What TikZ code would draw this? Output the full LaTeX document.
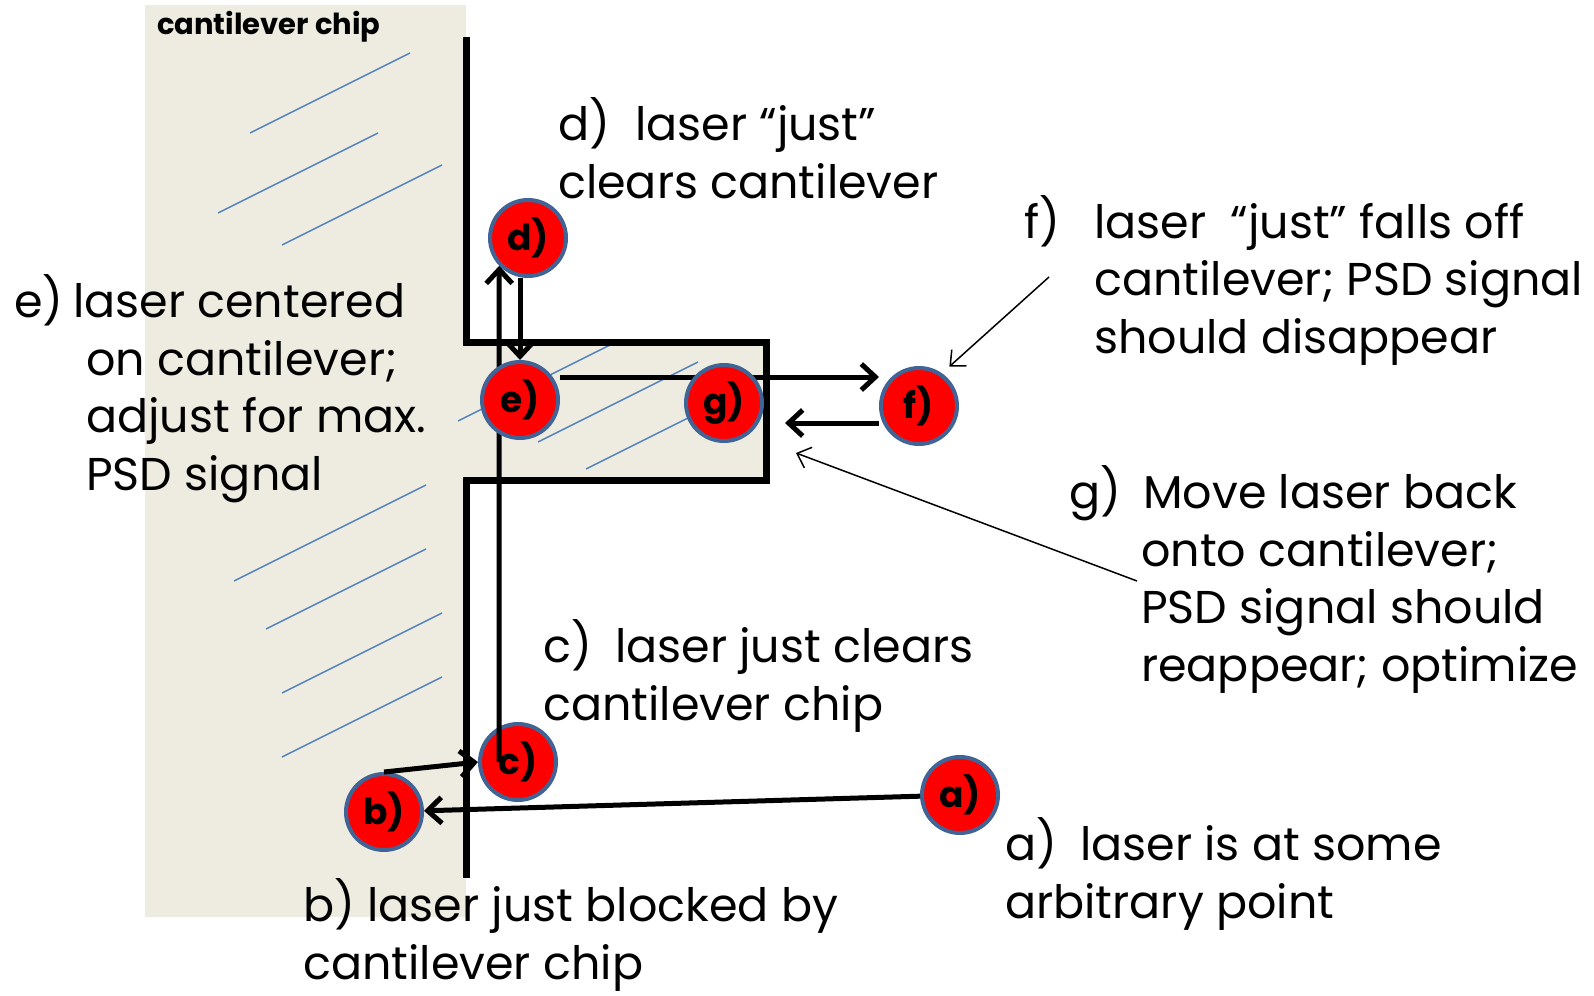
\documentclass[tikz,border=0pt]{standalone}
\usepackage{fontspec}
\setmainfont{Poppins}
\usetikzlibrary{arrows.meta}

\definecolor{chipfill}{RGB}{238,236,225}
\definecolor{hatch}{RGB}{79,129,189}
\definecolor{spotrim}{RGB}{65,100,150}

\pgfdeclarelayer{front}
\pgfsetlayers{main,front}

\tikzset{
  spot/.style={circle, fill=red, draw=spotrim, line width=4pt, minimum size=76pt, inner sep=0pt,
    font=\fontsize{36}{36}\selectfont\bfseries},
  laser/.style={line width=5pt, -{Straight Barb[length=14pt,width=26pt]}},
  pointer/.style={line width=1.5pt, -{Straight Barb[length=12pt,width=22pt]}},
  outline/.style={line width=7pt},
  % multi-line notes sit on the baseline of their last line
  note/.style={anchor=base west, align=left, inner sep=0pt, font=\fontsize{46}{57.5}\selectfont},
}

\begin{document}
\begin{tikzpicture}[x=1pt,y=-1pt]
\useasboundingbox (0,0) rectangle (1594,995);
% chip and cantilever
\fill[chipfill] (145,5) rectangle (466,917);
\fill[chipfill] (466,342) rectangle (766,480);
\node[anchor=base west, inner sep=0pt, font=\fontsize{29}{29}\selectfont\bfseries] (chip) at (157,35) {cantilever chip};
% hatching
\foreach \x/\y/\l in {250/133/160, 218/213/160, 282/245/160, 234/581/192, 266/629/160,
  282/693/160, 282/757/160, 458/421/160, 538/442/160, 586/469/160}
  \draw[hatch, line width=1.5pt] (\x,\y) -- ++(\l,-\l/2);
\draw[outline] (466,37) -- (466,342) -- (766,342) -- (766,480) -- (466,480) -- (466,878);

% laser spots
\node[spot] (a) at (960,795) {a)};
\node[spot] (b) at (384,812) {b)};
\node[spot] (c) at (518,762) {c)};
\node[spot] (d) at (528,238) {d)};
\begin{pgfonlayer}{front}
\node[spot] (e) at (520,400) {e)};
\node[spot] (g) at (724,403) {g)};
\node[spot] (f) at (919,406) {f)};
\end{pgfonlayer}

% beam moves
\draw[laser] (a) -- (b);
\draw[laser] (b.north) -- (c.west);
\draw[laser] ([xshift=-19pt]c.center) -- (d.224);
\draw[laser] (d.south -| e.north) -- (e.north);
\draw[laser] ([yshift=23pt]e.east) -- ([yshift=29pt]f.west);
\draw[laser] ([yshift=-17pt]f.west) -- ([xshift=21pt,yshift=-20pt]g.east);

% notes
\node[note] (dtext) at (558,198) {\makebox[77pt][l]{d)}laser “just”\\clears cantilever};
\node[note] (etext) at (14,490) {\makebox[59pt][l]{e)}laser centered\\
  \hspace*{72pt}on cantilever;\\\hspace*{72pt}adjust for max.\\\hspace*{72pt}PSD signal};
\node[note] (ftext) at (1024,353) {\makebox[70pt][l]{f)}laser~ “just” falls off\\
  \hspace*{70pt}cantilever; PSD signal\\\hspace*{70pt}should disappear};
\node[note] (gtext) at (1069,681) {\makebox[74pt][l]{g)}Move laser back\\
  \hspace*{72pt}onto cantilever;\\\hspace*{72pt}PSD signal should\\\hspace*{72pt}reappear; optimize};
\node[note] (ctext) at (543,720) {\makebox[72pt][l]{c)}laser just clears\\cantilever chip};
\node[note] (atext) at (1005,918) {\makebox[75pt][l]{a)}laser is at some\\arbitrary point};
\node[note] (btext) at (303,979) {b) laser just blocked by\\cantilever chip};

% pointers from notes
\coordinate (fnote) at (1049,277);
\coordinate (gnote) at (1137,581);
\coordinate (gtip) at (796,453);
\draw[pointer, shorten >=10pt] (fnote) -- (f.55);
\draw[pointer] (gnote) -- (gtip);
\end{tikzpicture}
\end{document}
